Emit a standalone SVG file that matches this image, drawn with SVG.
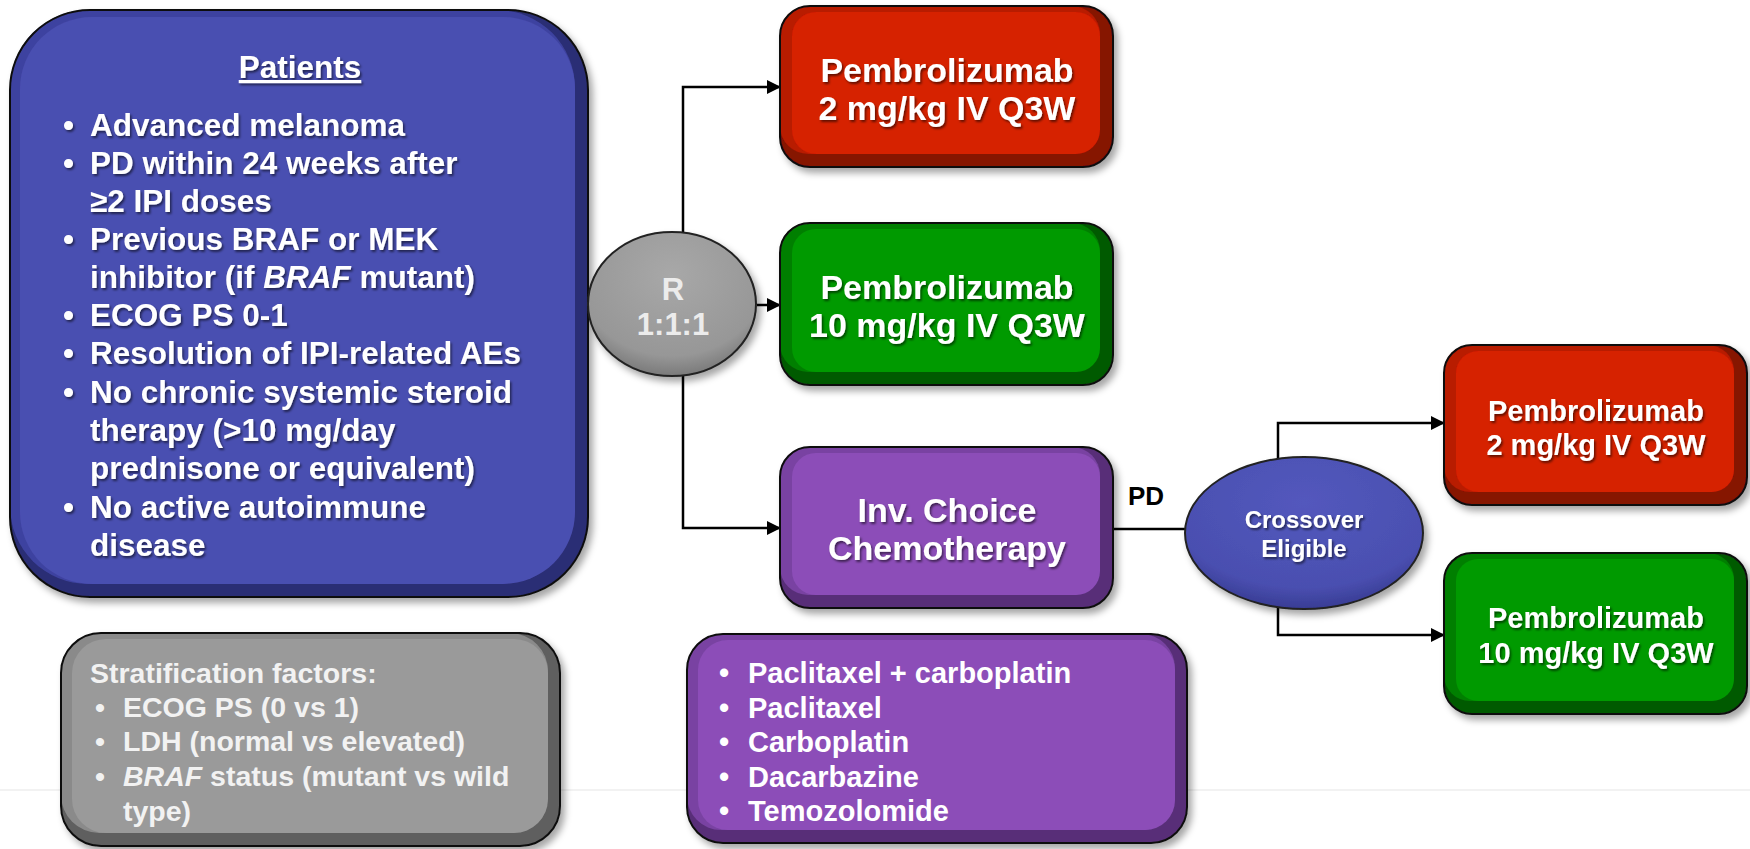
<svg xmlns="http://www.w3.org/2000/svg" width="1750" height="849" viewBox="0 0 1750 849">
<style>
.t{font-family:"Liberation Sans",Arial,sans-serif;font-weight:bold;fill:#fff}
.c{text-anchor:middle}
.edge{fill:none;stroke:#000;stroke-width:2.5}
.ol{fill:none;stroke:#111;stroke-width:2}
</style>
<defs>
<filter id="sh" x="-10%" y="-10%" width="125%" height="130%"><feDropShadow dx="4" dy="5" stdDeviation="3.5" flood-color="#000" flood-opacity="0.35"/></filter>
<filter id="ts" x="-5%" y="-20%" width="110%" height="150%"><feDropShadow dx="1.5" dy="2" stdDeviation="1" flood-color="#000" flood-opacity="0.55"/></filter>
<marker id="ah" markerWidth="14" markerHeight="14" refX="13" refY="7" orient="auto" markerUnits="userSpaceOnUse"><path d="M0,0 L14,7 L0,14 z" fill="#000"/></marker>
<radialGradient id="gR" cx="50%" cy="30%" r="70%"><stop offset="0" stop-color="#a8a8a8"/><stop offset="0.8" stop-color="#979797"/><stop offset="1" stop-color="#7a7a7a"/></radialGradient>
<radialGradient id="gB" cx="50%" cy="30%" r="70%"><stop offset="0" stop-color="#5358bd"/><stop offset="0.8" stop-color="#4a4fb0"/><stop offset="1" stop-color="#383c94"/></radialGradient>
</defs>
<rect width="1750" height="849" fill="#fff"/>
<line x1="0" y1="790" x2="1750" y2="790" stroke="#eeeeee" stroke-width="1.5"/>

<g id="connectors">
<path class="edge" d="M683,233 V87 H780" marker-end="url(#ah)"/>
<path class="edge" d="M757,305 H780" marker-end="url(#ah)"/>
<path class="edge" d="M683,375 V528 H780" marker-end="url(#ah)"/>
<path class="edge" d="M1113,529 H1186"/>
<path class="edge" d="M1278,459 V423 H1444" marker-end="url(#ah)"/>
<path class="edge" d="M1278,608 V635 H1444" marker-end="url(#ah)"/>
<text x="1128" y="505" font-family="Liberation Sans,Arial,sans-serif" font-weight="bold" font-size="26" fill="#000">PD</text>
</g>

<g id="patients">
<g filter="url(#sh)">
<rect x="10" y="10" width="578" height="587" rx="80" fill="#2b2e74"/>
<rect x="10" y="10" width="565" height="574" rx="78" fill="#3e43a0"/>
<rect x="20" y="17" width="555" height="567" rx="72" fill="#4a4fb1"/>
<rect class="ol" x="10" y="10" width="578" height="587" rx="80"/>
</g>
<g class="t" font-size="31.5" filter="url(#ts)">
<text class="t c" x="300" y="78" text-decoration="underline">Patients</text>
<text class="t">
<tspan x="63" y="136">•</tspan><tspan x="90">Advanced melanoma</tspan>
<tspan x="63" y="174">•</tspan><tspan x="90">PD within 24 weeks after</tspan>
<tspan x="90" y="212">≥2 IPI doses</tspan>
<tspan x="63" y="250">•</tspan><tspan x="90">Previous BRAF or MEK</tspan>
<tspan x="90" y="288">inhibitor (if <tspan font-style="italic">BRAF</tspan> mutant)</tspan>
<tspan x="63" y="326">•</tspan><tspan x="90">ECOG PS 0-1</tspan>
<tspan x="63" y="364">•</tspan><tspan x="90">Resolution of IPI-related AEs</tspan>
<tspan x="63" y="403">•</tspan><tspan x="90">No chronic systemic steroid</tspan>
<tspan x="90" y="441">therapy (&gt;10 mg/day</tspan>
<tspan x="90" y="479">prednisone or equivalent)</tspan>
<tspan x="63" y="518">•</tspan><tspan x="90">No active autoimmune</tspan>
<tspan x="90" y="556">disease</tspan>
</text>
</g>
</g>

<g id="randomize">
<ellipse cx="672" cy="304" rx="84" ry="72" fill="url(#gR)" stroke="#222" stroke-width="2" filter="url(#sh)"/>
<text class="t c" font-size="31" style="fill:#ececec"><tspan x="673" y="300">R</tspan><tspan x="673" y="335">1:1:1</tspan></text>
</g>

<g id="arm-red">
<g filter="url(#sh)">
<rect x="780" y="6" width="333" height="161" rx="30" fill="#861206"/>
<rect x="780" y="6" width="320" height="148" rx="28" fill="#b81a04"/>
<rect x="792" y="12" width="308" height="142" rx="24" fill="#d62000"/>
<rect class="ol" x="780" y="6" width="333" height="161" rx="30"/>
</g>
<text class="t c" font-size="34" filter="url(#ts)"><tspan x="947" y="82">Pembrolizumab</tspan><tspan x="947" y="120">2 mg/kg IV Q3W</tspan></text>
</g>

<g id="arm-green">
<g filter="url(#sh)">
<rect x="780" y="223" width="333" height="162" rx="30" fill="#045a04"/>
<rect x="780" y="223" width="320" height="149" rx="28" fill="#037f03"/>
<rect x="792" y="229" width="308" height="143" rx="24" fill="#029a02"/>
<rect class="ol" x="780" y="223" width="333" height="162" rx="30"/>
</g>
<text class="t c" font-size="34" filter="url(#ts)"><tspan x="947" y="299">Pembrolizumab</tspan><tspan x="947" y="337">10 mg/kg IV Q3W</tspan></text>
</g>

<g id="arm-chemo">
<g filter="url(#sh)">
<rect x="780" y="447" width="333" height="161" rx="30" fill="#582f78"/>
<rect x="780" y="447" width="320" height="148" rx="28" fill="#7943a2"/>
<rect x="792" y="453" width="308" height="142" rx="24" fill="#8c4eb8"/>
<rect class="ol" x="780" y="447" width="333" height="161" rx="30"/>
</g>
<text class="t c" font-size="34" filter="url(#ts)"><tspan x="947" y="522">Inv. Choice</tspan><tspan x="947" y="560">Chemotherapy</tspan></text>
</g>

<g id="crossover">
<ellipse cx="1304" cy="533" rx="119" ry="76" fill="url(#gB)" stroke="#222" stroke-width="2" filter="url(#sh)"/>
<text class="t c" font-size="24" filter="url(#ts)"><tspan x="1304" y="528">Crossover</tspan><tspan x="1304" y="557">Eligible</tspan></text>
</g>

<g id="cross-red">
<g filter="url(#sh)">
<rect x="1444" y="345" width="303" height="160" rx="28" fill="#861206"/>
<rect x="1444" y="345" width="290" height="147" rx="26" fill="#b81a04"/>
<rect x="1456" y="351" width="278" height="141" rx="22" fill="#d62000"/>
<rect class="ol" x="1444" y="345" width="303" height="160" rx="28"/>
</g>
<text class="t c" font-size="29" filter="url(#ts)"><tspan x="1596" y="421">Pembrolizumab</tspan><tspan x="1596" y="455">2 mg/kg IV Q3W</tspan></text>
</g>

<g id="cross-green">
<g filter="url(#sh)">
<rect x="1444" y="553" width="303" height="161" rx="28" fill="#045a04"/>
<rect x="1444" y="553" width="290" height="148" rx="26" fill="#037f03"/>
<rect x="1456" y="559" width="278" height="142" rx="22" fill="#029a02"/>
<rect class="ol" x="1444" y="553" width="303" height="161" rx="28"/>
</g>
<text class="t c" font-size="29" filter="url(#ts)"><tspan x="1596" y="628">Pembrolizumab</tspan><tspan x="1596" y="663">10 mg/kg IV Q3W</tspan></text>
</g>

<g id="stratification">
<g filter="url(#sh)">
<rect x="61" y="633" width="499" height="213" rx="40" fill="#5e5e5e"/>
<rect x="61" y="633" width="487" height="200" rx="38" fill="#8a8a8a"/>
<rect x="72" y="639" width="476" height="194" rx="34" fill="#9a9a9a"/>
<rect class="ol" x="61" y="633" width="499" height="213" rx="40"/>
</g>
<text class="t" font-size="28.5" style="fill:#f2f2f2">
<tspan x="90" y="683">Stratification factors:</tspan>
<tspan x="95" y="717">•</tspan><tspan x="123">ECOG PS (0 vs 1)</tspan>
<tspan x="95" y="751">•</tspan><tspan x="123">LDH (normal vs elevated)</tspan>
<tspan x="95" y="786">•</tspan><tspan x="123"><tspan font-style="italic">BRAF</tspan> status (mutant vs wild</tspan>
<tspan x="123" y="821">type)</tspan>
</text>
</g>

<g id="chemo-options">
<g filter="url(#sh)">
<rect x="687" y="634" width="500" height="209" rx="36" fill="#582f78"/>
<rect x="687" y="634" width="488" height="196" rx="34" fill="#7943a2"/>
<rect x="698" y="640" width="477" height="190" rx="30" fill="#8c4eb8"/>
<rect class="ol" x="687" y="634" width="500" height="209" rx="36"/>
</g>
<text class="t" font-size="29">
<tspan x="719" y="683">•</tspan><tspan x="748">Paclitaxel + carboplatin</tspan>
<tspan x="719" y="718">•</tspan><tspan x="748">Paclitaxel</tspan>
<tspan x="719" y="752">•</tspan><tspan x="748">Carboplatin</tspan>
<tspan x="719" y="787">•</tspan><tspan x="748">Dacarbazine</tspan>
<tspan x="719" y="821">•</tspan><tspan x="748">Temozolomide</tspan>
</text>
</g>
</svg>
